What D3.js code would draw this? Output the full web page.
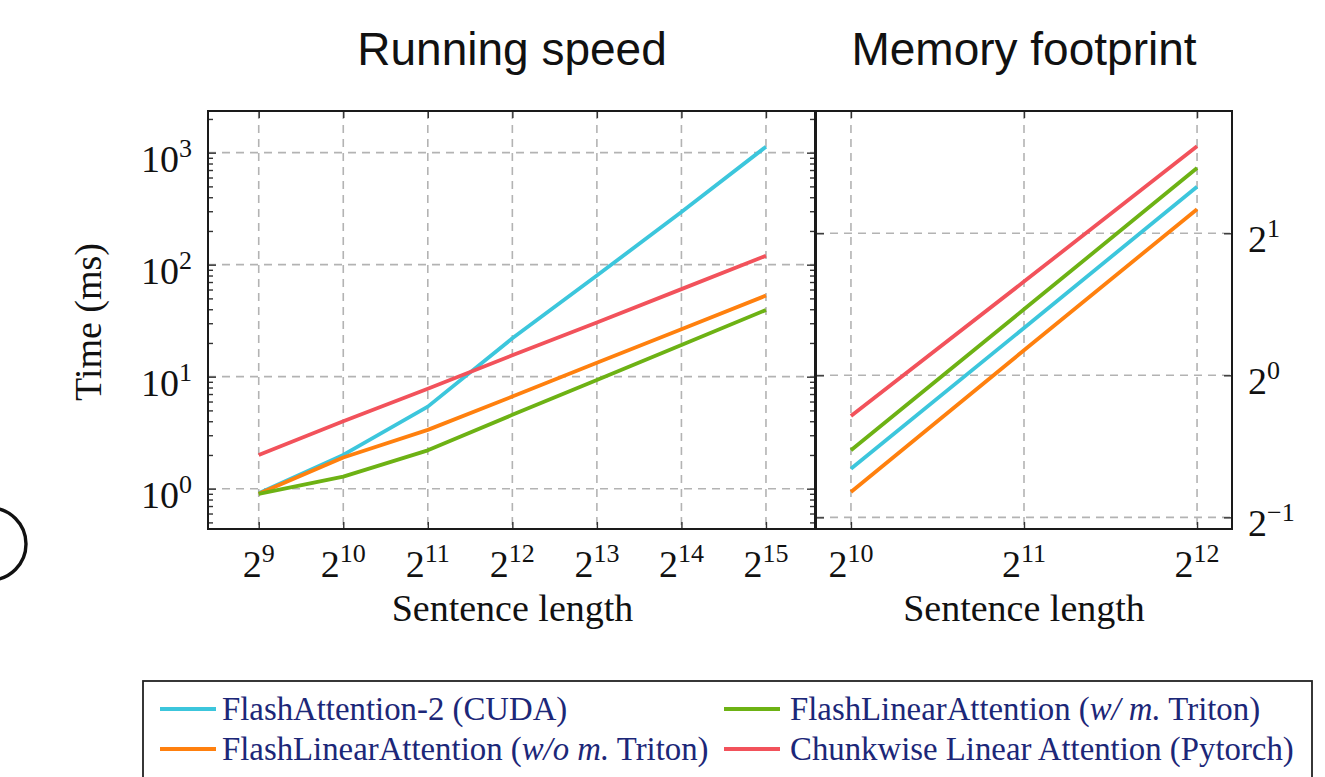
<!DOCTYPE html>
<html>
<head>
<meta charset="utf-8">
<script src="https://cdn.jsdelivr.net/npm/d3@7"></script>
<style>
  html, body { margin: 0; padding: 0; background: #fff; }
  svg { display: block; }
</style>
</head>
<body>
<svg id="chart" width="1325" height="777"></svg>
<script>
// ---------------- data ----------------
const speedLengths = [512, 1024, 2048, 4096, 8192, 16384, 32768];
const speedFA2     = [0.91, 2.0, 5.4, 22, 80, 295, 1130];
const speedFLAnoM  = [0.9, 1.9, 3.35, 6.65, 13.3, 26.5, 53];
const speedFLAwM   = [0.9, 1.28, 2.2, 4.56, 9.36, 19.2, 39.4];
const speedChunk   = [2.0, 4.0, 7.8, 15.5, 30.5, 60.5, 120];

const memLengths = [1024, 2048, 4096];
const memFA2     = [0.634, 1.26, 2.51];
const memFLAnoM  = [0.566, 1.13, 2.25];
const memFLAwM   = [0.694, 1.38, 2.75];
const memChunk   = [0.82, 1.58, 3.06];

const speedXTicks = [9, 10, 11, 12, 13, 14, 15];   // exponents of 2
const speedYTicks = [0, 1, 2, 3];                  // exponents of 10
const memXTicks   = [10, 11, 12];                  // exponents of 2
const memYTicks   = [-1, 0, 1];                    // exponents of 2

const titles = ["Running speed", "Memory footprint"];
const xLabel = "Sentence length";
const yLabel = "Time (ms)";

const seriesNames = [
  [{t: "FlashAttention-2 (CUDA)"}],
  [{t: "FlashLinearAttention ("}, {t: "w/o m.", i: true}, {t: " Triton)"}],
  [{t: "FlashLinearAttention ("}, {t: "w/ m.", i: true}, {t: " Triton)"}],
  [{t: "Chunkwise Linear Attention (Pytorch)"}]
];
const colors = ["#3cc6dc", "#ff800e", "#6db214", "#f2525b"];

// ---------------- drawing ----------------
const svg = d3.select("#chart");
const SERIF = "'Liberation Serif', 'Times New Roman', serif";
const SANS = "'Liberation Sans', Arial, Helvetica, sans-serif";

const L = {x0: 208, x1: 815, y0: 111, y1: 529};
const R = {x0: 816, x1: 1232, y0: 111, y1: 529};

const xL = d3.scaleLog().base(2).domain([Math.pow(2, 8.4), Math.pow(2, 15.58)]).range([L.x0, L.x1]);
const yL = d3.scaleLog().base(10).domain([Math.pow(10, -0.36), Math.pow(10, 3.372)]).range([L.y1, L.y0]);
const xR = d3.scaleLog().base(2).domain([Math.pow(2, 9.798), Math.pow(2, 12.202)]).range([R.x0, R.x1]);
const yR = d3.scaleLog().base(2).domain([Math.pow(2, -1.082), Math.pow(2, 1.861)]).range([R.y1, R.y0]);

const gridColor = "#b3b3b3";
const gridDash = "8,6";

function grid(g, box, xs, x, ys, y) {
  g.selectAll(null).data(xs).enter().append("line")
    .attr("x1", d => x(d)).attr("x2", d => x(d))
    .attr("y1", box.y0).attr("y2", box.y1)
    .attr("stroke", gridColor).attr("stroke-width", 1.6).attr("stroke-dasharray", gridDash);
  g.selectAll(null).data(ys).enter().append("line")
    .attr("y1", d => y(d)).attr("y2", d => y(d))
    .attr("x1", box.x0).attr("x2", box.x1)
    .attr("stroke", gridColor).attr("stroke-width", 1.6).attr("stroke-dasharray", gridDash);
}

const gL = svg.append("g");
const gR = svg.append("g");

const sxL = speedXTicks.map(e => Math.pow(2, e));
const syL = speedYTicks.map(e => Math.pow(10, e));
const sxR = memXTicks.map(e => Math.pow(2, e));
const syR = memYTicks.map(e => Math.pow(2, e));

grid(gL, L, sxL, xL, syL, yL);
grid(gR, R, sxR, xR, syR, yR);

// series lines
const speedSeries = [speedFA2, speedFLAnoM, speedFLAwM, speedChunk];
const memSeries = [memFA2, memFLAnoM, memFLAwM, memChunk];
const drawOrder = [0, 1, 2, 3];

const lineL = d3.line().x((d, i) => xL(speedLengths[i])).y(d => yL(d));
const lineR = d3.line().x((d, i) => xR(memLengths[i])).y(d => yR(d));

drawOrder.forEach(k => {
  gL.append("path").attr("d", lineL(speedSeries[k]))
    .attr("fill", "none").attr("stroke", colors[k]).attr("stroke-width", 3.8)
    .attr("stroke-linejoin", "round");
  gR.append("path").attr("d", lineR(memSeries[k]))
    .attr("fill", "none").attr("stroke", colors[k]).attr("stroke-width", 3.8)
    .attr("stroke-linejoin", "round");
});

// ticks via d3 axes (inward)
const tickColor = "#333";
function styleAxis(sel) {
  sel.select(".domain").remove();
  sel.selectAll(".tick line").attr("stroke", tickColor).attr("stroke-width", 1.4);
  sel.selectAll(".tick text").remove();
}
gL.append("g").attr("transform", `translate(0,${L.y1})`)
  .call(d3.axisBottom(xL).tickValues(sxL).tickSize(-7).tickFormat("")).call(styleAxis);
gL.append("g").attr("transform", `translate(0,${L.y0})`)
  .call(d3.axisTop(xL).tickValues(sxL).tickSize(-7).tickFormat("")).call(styleAxis);
const minorL = [];
for (let e = -1; e <= 3; e++) for (let k = 2; k <= 9; k++) {
  const v = k * Math.pow(10, e);
  if (v > yL.domain()[0] && v < yL.domain()[1]) minorL.push(v);
}
[[L.x0, d3.axisLeft], [L.x1, d3.axisRight]].forEach(([xp, ax]) => {
  gL.append("g").attr("transform", `translate(${xp},0)`)
    .call(ax(yL).tickValues(syL).tickSize(-8).tickFormat("")).call(styleAxis);
  gL.append("g").attr("transform", `translate(${xp},0)`)
    .call(ax(yL).tickValues(minorL).tickSize(-5).tickFormat("")).call(styleAxis);
});
gR.append("g").attr("transform", `translate(0,${R.y1})`)
  .call(d3.axisBottom(xR).tickValues(sxR).tickSize(-7).tickFormat("")).call(styleAxis);
gR.append("g").attr("transform", `translate(0,${R.y0})`)
  .call(d3.axisTop(xR).tickValues(sxR).tickSize(-7).tickFormat("")).call(styleAxis);
gR.append("g").attr("transform", `translate(${R.x0},0)`)
  .call(d3.axisLeft(yR).tickValues(syR).tickSize(-8).tickFormat("")).call(styleAxis);
gR.append("g").attr("transform", `translate(${R.x1},0)`)
  .call(d3.axisRight(yR).tickValues(syR).tickSize(-8).tickFormat("")).call(styleAxis);

// frames
[L, R].forEach(b => {
  svg.append("rect").attr("x", b.x0).attr("y", b.y0)
    .attr("width", b.x1 - b.x0).attr("height", b.y1 - b.y0)
    .attr("fill", "none").attr("stroke", "#1a1a1a").attr("stroke-width", 2);
});

// tick labels with superscripts
function powLabel(g, base, exp, x, y, anchor) {
  const t = g.append("text").attr("x", x).attr("y", y)
    .attr("text-anchor", anchor).attr("font-family", SERIF)
    .attr("font-size", 38).attr("fill", "#111");
  t.append("tspan").text(base);
  t.append("tspan").attr("dy", -15).attr("font-size", 26)
    .text(String(exp).replace("-", "\u2212"));
}
speedXTicks.forEach(e => powLabel(svg, "2", e, xL(Math.pow(2, e)), 577, "middle"));
speedYTicks.forEach(e => powLabel(svg, "10", e, 192, yL(Math.pow(10, e)) + 19, "end"));
memXTicks.forEach(e => powLabel(svg, "2", e, xR(Math.pow(2, e)), 577, "middle"));
memYTicks.forEach(e => powLabel(svg, "2", e, 1248, yR(Math.pow(2, e)) + 18.5, "start"));

// axis titles
svg.append("text").attr("x", (L.x0 + L.x1) / 2 + 1).attr("y", 621)
  .attr("text-anchor", "middle").attr("font-family", SERIF).attr("font-size", 38)
  .attr("fill", "#111").text(xLabel);
svg.append("text").attr("x", (R.x0 + R.x1) / 2).attr("y", 621)
  .attr("text-anchor", "middle").attr("font-family", SERIF).attr("font-size", 38)
  .attr("fill", "#111").text(xLabel);
svg.append("text").attr("transform", "translate(101,322) rotate(-90)")
  .attr("text-anchor", "middle").attr("font-family", SERIF).attr("font-size", 38)
  .attr("fill", "#111").text(yLabel);

// titles
svg.append("text").attr("x", 512).attr("y", 65).attr("text-anchor", "middle")
  .attr("font-family", SANS).attr("font-size", 46).attr("fill", "#111").text(titles[0]);
svg.append("text").attr("x", 1024).attr("y", 65).attr("text-anchor", "middle")
  .attr("font-family", SANS).attr("font-size", 46).attr("fill", "#111").text(titles[1]);

// partial glyph at far left (cut-off label)
svg.append("ellipse").attr("cx", -10).attr("cy", 544).attr("rx", 36).attr("ry", 36)
  .attr("fill", "none").attr("stroke", "#111").attr("stroke-width", 3.4);

// legend
svg.append("rect").attr("x", 143).attr("y", 681).attr("width", 1169).attr("height", 130)
  .attr("fill", "none").attr("stroke", "#222").attr("stroke-width", 1.8);
const legendPos = [
  {lx: 160, tx: 222, y: 709},
  {lx: 160, tx: 222, y: 749},
  {lx: 724, tx: 790, y: 709},
  {lx: 724, tx: 790, y: 749}
];
seriesNames.forEach((parts, k) => {
  const p = legendPos[k];
  svg.append("line").attr("x1", p.lx).attr("x2", p.lx + 56)
    .attr("y1", p.y).attr("y2", p.y)
    .attr("stroke", colors[k]).attr("stroke-width", 4);
  const t = svg.append("text").attr("x", p.tx).attr("y", p.y + 11)
    .attr("font-family", SERIF).attr("font-size", 32.8).attr("fill", "#1c2778");
  parts.forEach(s => {
    const ts = t.append("tspan").text(s.t);
    if (s.i) ts.attr("font-style", "italic");
  });
});
</script>
</body>
</html>
